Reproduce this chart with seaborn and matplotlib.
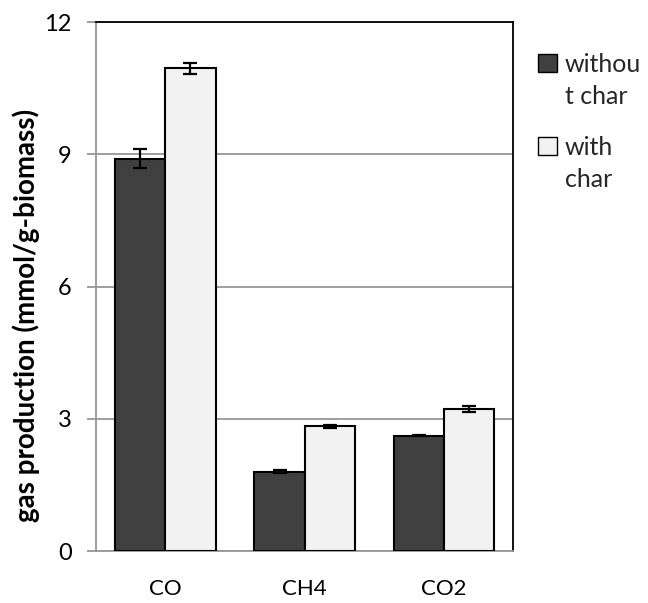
import matplotlib
matplotlib.use("Agg")
import matplotlib.pyplot as plt
from matplotlib.legend_handler import HandlerPatch
from matplotlib.patches import Rectangle
import seaborn as sns
import pandas as pd

gases = ["CO", "CH4", "CO2"]
without_char = [8.9, 1.8, 2.62]
with_char = [10.95, 2.83, 3.23]
without_err = [0.22, 0.03, 0.02]
with_err = [0.12, 0.03, 0.07]
series_names = ["withou\nt char", "with\nchar"]
yticks = [0, 3, 6, 9, 12]

sns.set_theme(style="white")
plt.rcParams["font.family"] = ["Lato", "DejaVu Sans"]

df = pd.DataFrame({
    "gas": gases * 2,
    "value": without_char + with_char,
    "series": [series_names[0]] * 3 + [series_names[1]] * 3,
})


class FirstLineHandler(HandlerPatch):
    """Legend swatch aligned with the first line of a two-line label."""

    def create_artists(self, legend, orig_handle, xdescent, ydescent,
                       width, height, fontsize, trans):
        shift = 0.72 * fontsize
        p = Rectangle((-xdescent, -ydescent + shift), width, height,
                      facecolor=orig_handle.get_facecolor(),
                      edgecolor="black", linewidth=1.0, transform=trans)
        return [p]


fig = plt.figure(figsize=(6.48, 6.03), dpi=100)
ax = fig.add_axes([0.148, 0.0862, 0.644, 0.8773])

palette = {series_names[0]: "#404040", series_names[1]: "#f2f2f2"}
sns.barplot(data=df, x="gas", y="value", hue="series", palette=palette,
            errorbar=None, width=0.72, edgecolor="black", linewidth=1.5,
            saturation=1, ax=ax, zorder=3)

# error bars centred on each drawn bar
for container, errs, vals in zip(ax.containers, [without_err, with_err], [without_char, with_char]):
    xs = [p.get_x() + p.get_width() / 2 for p in container.patches]
    ax.errorbar(xs, vals, yerr=errs, fmt="none", ecolor="black",
                elinewidth=1.6, capsize=5, capthick=1.6, zorder=4)

ax.set_ylim(0, 12)
ax.set_yticks(yticks)
ax.set_xlim(-0.5, 2.5)
ax.yaxis.grid(True, color="#969696", linewidth=1.3, zorder=0)
ax.set_axisbelow(True)

for side in ["left", "bottom"]:
    ax.spines[side].set_color("#969696")
    ax.spines[side].set_linewidth(1.3)
for side in ["top", "right"]:
    ax.spines[side].set_color("black")
    ax.spines[side].set_linewidth(1.3)

ax.tick_params(axis="y", which="both", left=True, length=6.5, color="#969696",
               width=1.3, labelsize=17, pad=11, labelcolor="black")
ax.tick_params(axis="x", bottom=False, labelsize=16, pad=14, labelcolor="black")
ax.set_xlabel("")
ax.set_ylabel("gas production (mmol/g-biomass)", fontsize=20, fontweight="bold",
              color="black")
ax.yaxis.set_label_coords(-0.135, 0.446)

handles, labels = ax.get_legend_handles_labels()
leg = ax.legend(handles, labels, loc="upper left", bbox_to_anchor=(1.06, 0.942),
                frameon=False, fontsize=18, handlelength=0.75, handleheight=0.75,
                handletextpad=0.3, labelspacing=1.1, borderaxespad=0, borderpad=0,
                handler_map={h: FirstLineHandler() for h in handles})
for t in leg.get_texts():
    t.set_linespacing(1.5)

fig.savefig("out.png", dpi=100)
